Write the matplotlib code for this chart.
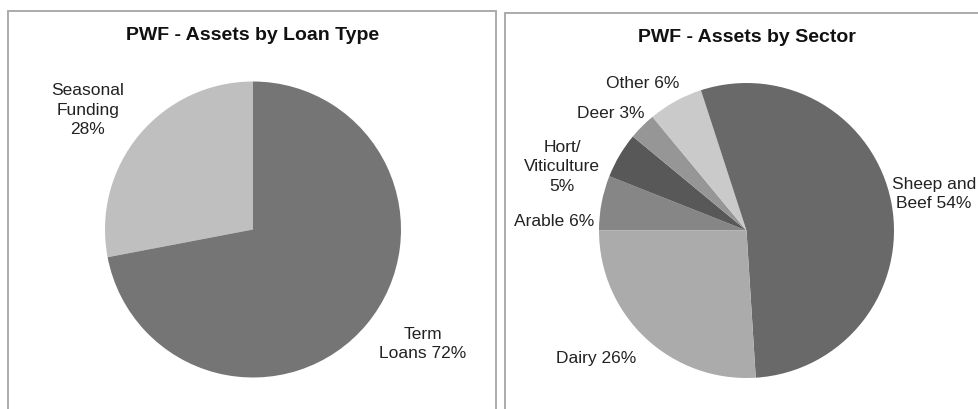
import matplotlib
matplotlib.use("Agg")
import matplotlib.pyplot as plt
from matplotlib.patches import Rectangle

# ---- data ----
loan_categories = ["Seasonal Funding", "Term Loans"]
loan_values = [28, 72]
loan_labels = ["Seasonal\nFunding\n28%", "Term\nLoans 72%"]
loan_colors = ["#bfbfbf", "#757575"]

sector_categories = ["Arable", "Hort/Viticulture", "Deer", "Other", "Sheep and Beef", "Dairy"]
sector_values = [6, 5, 3, 6, 54, 26]
sector_labels = ["Arable 6%", "Hort/\nViticulture\n5%", "Deer 3%", "Other 6%",
                 "Sheep and\nBeef 54%", "Dairy 26%"]
sector_colors = ["#868686", "#585858", "#969696", "#cacaca", "#696969", "#ababab"]

titles = ["PWF - Assets by Loan Type", "PWF - Assets by Sector"]

# ---- layout (pixels) ----
W, H = 979, 410
plt.rcParams["font.family"] = ["Liberation Sans", "DejaVu Sans"]
fig = plt.figure(figsize=(W / 100, H / 100), dpi=100)

def px_axes(cx, cy, r):
    return fig.add_axes([(cx - r) / W, (H - cy - r) / H, 2 * r / W, 2 * r / H])

def fx(x):
    return x / W

def fy(y):
    return 1 - y / H

# panel borders
for (x0, y0, x1) in [(8, 12, 496), (505, 14, 1000)]:
    fig.patches.append(Rectangle((fx(x0), fy(430)), fx(x1) - fx(x0), fy(y0) - fy(430),
                                 transform=fig.transFigure, fill=False,
                                 edgecolor="#ababab", linewidth=1.4, zorder=0))

# left pie
ax1 = px_axes(253, 230.5, 148)
ax1.pie(loan_values, colors=loan_colors, startangle=90, counterclock=True,
        wedgeprops=dict(linewidth=0), radius=1)
ax1.set_xlim(-1, 1); ax1.set_ylim(-1, 1)
ax1.set_aspect("auto")
ax1.axis("off")

# right pie
ax2 = px_axes(746.5, 231.5, 147.5)
ax2.pie(sector_values, colors=sector_colors, startangle=180, counterclock=False,
        wedgeprops=dict(linewidth=0), radius=1)
ax2.set_xlim(-1, 1); ax2.set_ylim(-1, 1)
ax2.set_aspect("auto")
ax2.axis("off")

# titles
fig.text(fx(253), fy(35), titles[0], ha="center", va="center", fontsize=14,
         fontweight="bold", color="#111111")
fig.text(fx(747), fy(37), titles[1], ha="center", va="center", fontsize=14,
         fontweight="bold", color="#111111")

# label positions (pixels)
loan_pos = [(88, 110), (423, 344)]
sector_pos = [(554, 222), (562, 167), (611, 114), (643, 84), (934, 194), (596, 359)]

lab_kw = dict(ha="center", va="center", fontsize=12.5, color="#222222", linespacing=1.4)
for lab, (x, y) in zip(loan_labels, loan_pos):
    fig.text(fx(x), fy(y), lab, **lab_kw)
for lab, (x, y) in zip(sector_labels, sector_pos):
    fig.text(fx(x), fy(y), lab, **lab_kw)

fig.savefig("out.png", dpi=100)
